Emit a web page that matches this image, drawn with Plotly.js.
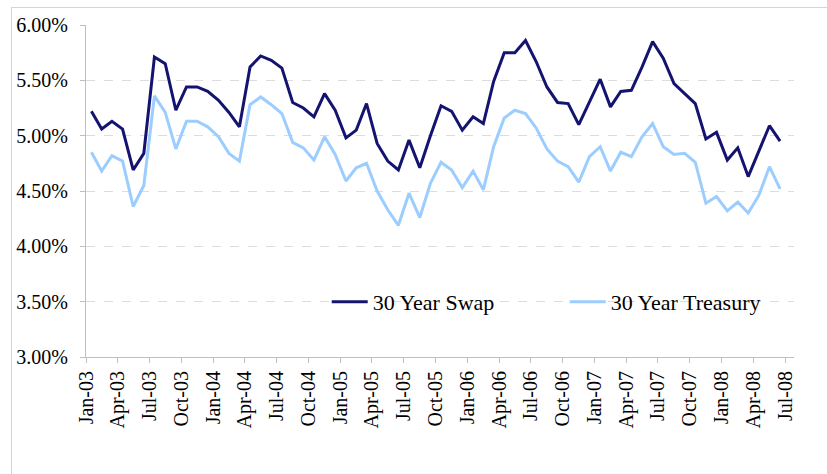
<!DOCTYPE html>
<html>
<head>
<meta charset="utf-8">
<script src="https://cdn.plot.ly/plotly-3.0.1.min.js"></script>
<style>
  html, body { margin: 0; padding: 0; background: #ffffff; overflow: hidden; }
  #frame { position: absolute; left: 11px; top: 7px; width: 840px; height: 500px; border: 1px solid #d4d4d4; box-sizing: border-box; }
  #chart { position: absolute; left: 0; top: 0; width: 827px; height: 474px; }
</style>
</head>
<body>
<div id="frame"></div>
<div id="chart"></div>
<script>
// Monthly observations, Jan-03 .. Jun-08
const months = [
  "2003-01","2003-02","2003-03","2003-04","2003-05","2003-06","2003-07","2003-08","2003-09","2003-10","2003-11","2003-12",
  "2004-01","2004-02","2004-03","2004-04","2004-05","2004-06","2004-07","2004-08","2004-09","2004-10","2004-11","2004-12",
  "2005-01","2005-02","2005-03","2005-04","2005-05","2005-06","2005-07","2005-08","2005-09","2005-10","2005-11","2005-12",
  "2006-01","2006-02","2006-03","2006-04","2006-05","2006-06","2006-07","2006-08","2006-09","2006-10","2006-11","2006-12",
  "2007-01","2007-02","2007-03","2007-04","2007-05","2007-06","2007-07","2007-08","2007-09","2007-10","2007-11","2007-12",
  "2008-01","2008-02","2008-03","2008-04","2008-05","2008-06"
];
const swap30 = [
  5.22,5.06,5.13,5.06,4.69,4.84,5.71,5.65,5.23,5.44,5.44,5.40,
  5.32,5.21,5.08,5.62,5.72,5.68,5.61,5.30,5.25,5.17,5.38,5.23,
  4.98,5.05,5.29,4.93,4.77,4.69,4.96,4.71,5.00,5.27,5.22,5.05,
  5.17,5.11,5.49,5.75,5.75,5.86,5.67,5.44,5.30,5.29,5.10,5.31,
  5.51,5.26,5.40,5.41,5.62,5.85,5.70,5.47,5.38,5.29,4.97,5.03,
  4.78,4.89,4.63,4.86,5.09,4.95
];
const treasury30 = [
  4.85,4.68,4.82,4.77,4.36,4.55,5.36,5.21,4.88,5.13,5.13,5.08,
  4.99,4.84,4.77,5.28,5.35,5.28,5.20,4.94,4.89,4.78,4.99,4.83,
  4.59,4.71,4.75,4.50,4.33,4.19,4.48,4.26,4.57,4.76,4.69,4.53,
  4.68,4.51,4.90,5.16,5.23,5.20,5.07,4.88,4.77,4.72,4.58,4.81,
  4.90,4.68,4.85,4.81,4.99,5.11,4.90,4.83,4.84,4.76,4.39,4.45,
  4.32,4.40,4.30,4.46,4.72,4.52
];
const seriesNames = ["30 Year Swap", "30 Year Treasury"];
const yTicks = [3.0, 3.5, 4.0, 4.5, 5.0, 5.5, 6.0];
const yTickText = yTicks.map(v => v.toFixed(2) + "%");

const serif = "'Liberation Serif', 'Times New Roman', serif";

const traces = [
  {
    x: months, y: swap30, name: seriesNames[0], type: "scatter", mode: "lines",
    xperiod: "M1", xperiodalignment: "middle",
    line: { color: "#141470", width: 3 }
  },
  {
    x: months, y: treasury30, name: seriesNames[1], type: "scatter", mode: "lines",
    xperiod: "M1", xperiodalignment: "middle",
    line: { color: "#9ccdff", width: 3 }
  }
];

const layout = {
  width: 827, height: 474,
  margin: { l: 86, r: 33, t: 25, b: 117, autoexpand: false },
  paper_bgcolor: "rgba(0,0,0,0)",
  plot_bgcolor: "rgba(0,0,0,0)",
  font: { family: serif, size: 20, color: "#000000" },
  showlegend: true,
  legend: {
    orientation: "h",
    x: 0.340, xanchor: "left",
    y: 0.166, yanchor: "middle",
    entrywidth: 187, entrywidthmode: "pixels",
    itemwidth: 36,
    bgcolor: "rgba(0,0,0,0)",
    font: { family: serif, size: 22, color: "#000000" }
  },
  xaxis: {
    type: "date",
    range: ["2003-01-01", "2008-07-26"],
    tick0: "2003-01-01", dtick: "M3",
    tickformat: "%b-%y",
    tickangle: -90,
    automargin: false,
    ticks: "outside", ticklen: 5, tickcolor: "#bfbfbf",
    showline: true, linecolor: "#bfbfbf", linewidth: 1,
    showgrid: false, zeroline: false,
    tickfont: { family: serif, size: 20, color: "#000000" }
  },
  yaxis: {
    range: [3.0, 6.0],
    tickmode: "array",
    tickvals: yTicks,
    ticktext: yTickText,
    automargin: false,
    ticks: "outside", ticklen: 5, tickcolor: "#bfbfbf",
    ticklabelstandoff: 8,
    showline: true, linecolor: "#bfbfbf", linewidth: 1,
    showgrid: true, gridcolor: "#dcdcdc", griddash: "dash", gridwidth: 1,
    zeroline: false,
    tickfont: { family: serif, size: 20, color: "#000000" }
  }
};

Plotly.newPlot("chart", traces, layout, { displayModeBar: false, staticPlot: true });
</script>
</body>
</html>
